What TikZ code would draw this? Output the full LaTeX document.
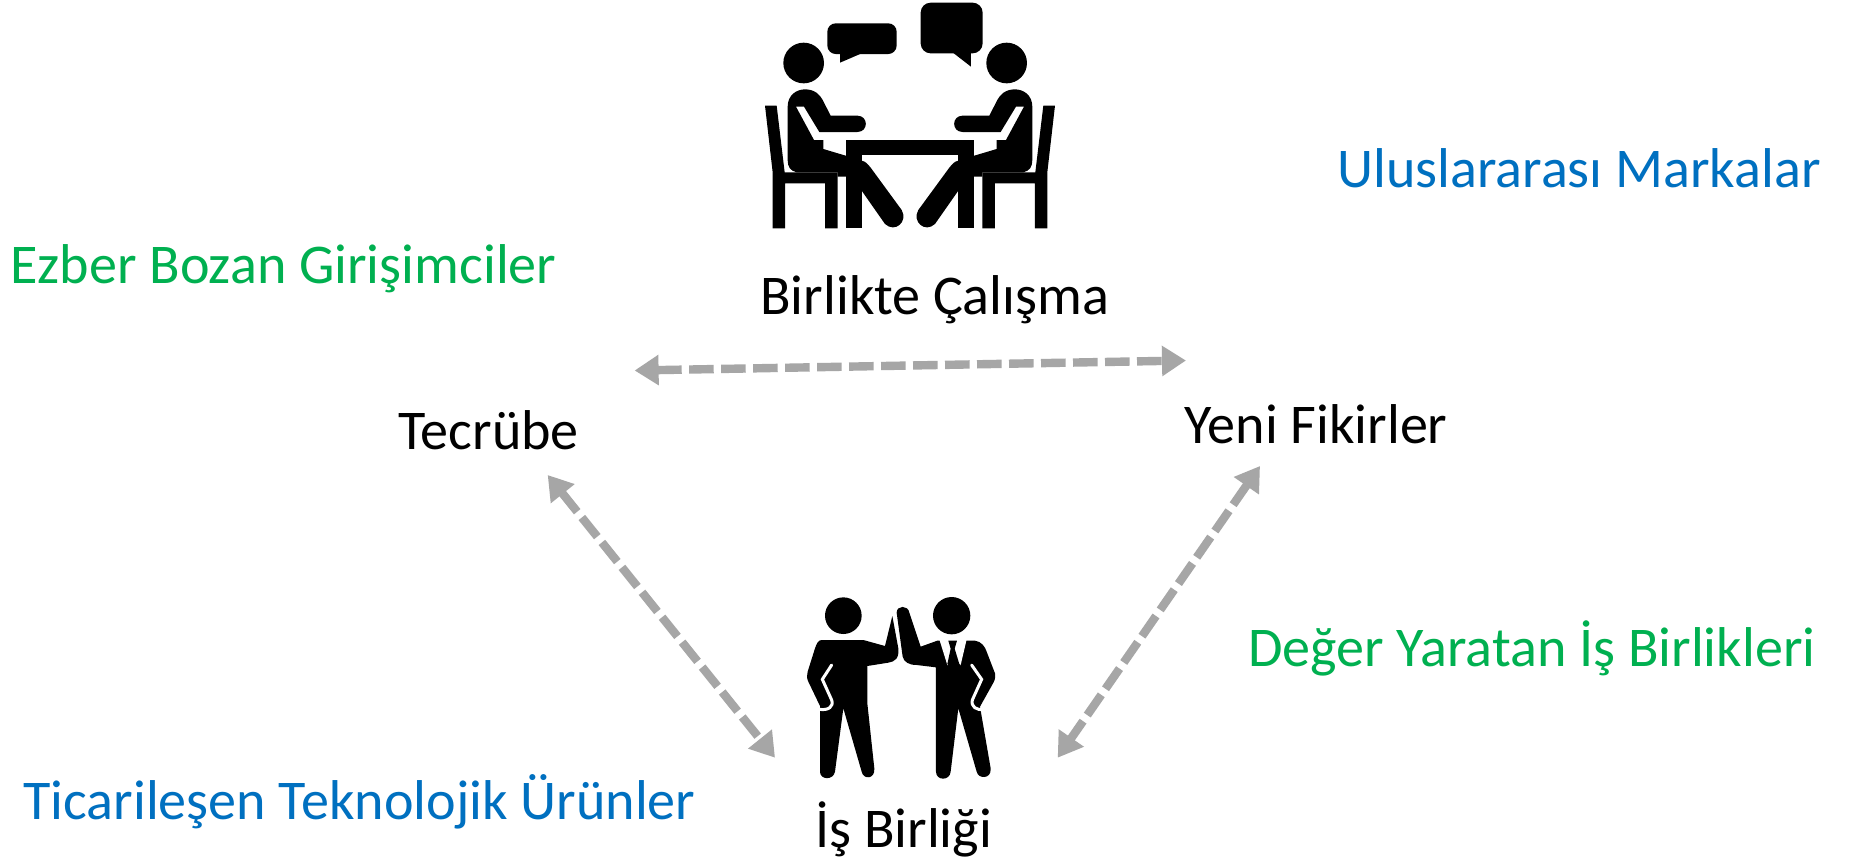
\documentclass[tikz,border=0pt]{standalone}
\usepackage{fontspec}
\setmainfont{Carlito}
\usetikzlibrary{arrows.meta}
\definecolor{arrowgrey}{HTML}{A6A6A6}
\definecolor{labgreen}{HTML}{00B050}
\definecolor{labblue}{HTML}{0070C0}
\newcommand{\meetingside}{%
  % chair
  \fill (75,317) -- (110,317) -- (134,517) -- (293,517) -- (293,685) -- (255,685) -- (255,550) -- (135,550) -- (135,685) -- (98,685) -- (98,517) -- cycle;
  % person
  \fill (143,320) .. controls (143,285) and (170,268) .. (195,268) .. controls (225,268) and (240,285) .. (248,300) -- (272,347) -- (352,347) .. controls (386,347) and (386,396) .. (352,396) -- (238,396) -- (192,320) -- (168,320) -- (222,420) -- (250,420) -- (250,447) -- (317,467) -- (365,482) .. controls (378,484) and (385,495) .. (392,503) -- (485,630) .. controls (505,665) and (465,700) .. (435,672) -- (365,572) -- (340,530) -- (293,530) -- (293,517) -- (170,517) .. controls (150,512) and (143,500) .. (143,480) -- cycle;
  % table leg
  \fill (317,440) rectangle (365,685);
}
\newcommand{\fivemanA}{%
  \fill (190,107) circle[radius=55];
  \fill (125,180) -- (250,180) -- (315,198) -- (337,108) -- (355,205) .. controls (358,235) and (345,245) .. (325,248) -- (262,258) -- (262,370) -- (283,565) .. controls (286,598) and (250,600) .. (245,575) -- (190,385) -- (165,575) .. controls (160,602) and (120,600) .. (120,575) -- (120,378) -- (85,305) .. controls (80,295) and (80,285) .. (83,275) -- (105,205) .. controls (110,190) and (115,180) .. (125,180) -- cycle;
  \draw[white,line width=1.5pt,line cap=round] (155,255) -- (127,298) -- (155,360) .. controls (162,380) and (145,392) .. (118,388);
}
\newcommand{\fivemanB}{%
  \fill (515,107) circle[radius=56];
  \fill (350,98) .. controls (350,75) and (385,75) .. (388,98) -- (422,200) -- (472,182) -- (585,182) .. controls (605,185) and (615,200) .. (620,215) -- (645,280) .. controls (648,295) and (642,305) .. (638,312) -- (600,380) -- (632,565) .. controls (635,598) and (595,598) .. (590,575) -- (535,385) -- (512,575) .. controls (510,603) and (468,603) .. (468,575) -- (468,262) -- (410,255) .. controls (385,255) and (372,245) .. (368,230) -- cycle;
  \fill[white] (478,178) -- (560,178) -- (542,255) -- (520,270) -- (502,255) -- cycle;
  \fill (505,182) -- (531,182) -- (524,206) -- (538,252) -- (520,268) -- (502,252) -- (512,206) -- cycle;
  \fill (502,255) -- (538,252) -- (542,255) -- (520,290) -- cycle;
  \draw[white,line width=1.5pt,line cap=round] (575,255) -- (605,298) -- (577,360) .. controls (572,380) and (590,392) .. (612,388);
}
\tikzset{
  lab/.style={anchor=base west,inner sep=0pt,font=\fontsize{28.05pt}{30pt}\selectfont},
  linkarrow/.style={draw=arrowgrey,line width=4.2pt,dash pattern=on 12.3pt off 3.7pt,{Triangle[length=12pt,width=14.5pt]}-{Triangle[length=12pt,width=14.5pt]}},
  zoomone/.style={shift={(740,0)},x=0.5pt/3,y=-0.5pt/3},
  zoomtwo/.style={shift={(780,580)},x=0.5pt/3,y=-0.5pt/3}
}
\begin{document}
\begin{tikzpicture}[x=0.5pt,y=-0.5pt]
\useasboundingbox (0,0) rectangle (1849,864);
\fill[white] (0,0) rectangle (1849,864);
% meeting icon
\begin{scope}[zoomone]
  \fill (191,189) circle[radius=61];
  \fill (800,189) circle[radius=61];
  \fill[rounded corners=4.2pt] (262,70) rectangle (470,162);
  \fill (300,150) -- (300,188) -- (365,160) -- cycle;
  \fill[rounded corners=5pt] (542,8) rectangle (728,160);
  \fill (635,155) -- (693,200) -- (693,155) -- cycle;
  \meetingside
  \begin{scope}[shift={(1020,0)},xscale=-1]
    \meetingside
  \end{scope}
  \fill (317,420) rectangle (703,465);
\end{scope}
% high five icon
\begin{scope}[zoomtwo]
  \fivemanA
  \fivemanB
\end{scope}
% labels
\node[lab] (birlikte) at (760,314) {Birlikte Çalışma};
\node[lab] (tecrube) at (398,449) {Tecrübe};
\node[lab] (yeni) at (1184,443) {Yeni Fikirler};
\node[lab] (isbir) at (815,847) {İş Birliği};
\node[lab,text=labblue] (ulus) at (1337,187) {Uluslararası Markalar};
\node[lab,text=labgreen] (ezber) at (10,283) {Ezber Bozan Girişimciler};
\node[lab,text=labgreen] (deger) at (1248,666) {Değer Yaratan İş Birlikleri};
\node[lab,text=labblue] (ticari) at (23,819) {Ticarileşen Teknolojik Ürünler};
% connector ends
\coordinate (tl) at (634.6,370.5);
\coordinate (yr) at (1186,360.5);
\coordinate (tb) at (547.7,475);
\coordinate (il) at (775,757.7);
\coordinate (yb) at (1260,466);
\coordinate (ir) at (1057.7,757.7);
\draw[linkarrow] (tl) -- (yr);
\draw[linkarrow] (tb) -- (il);
\draw[linkarrow] (yb) -- (ir);
\end{tikzpicture}
\end{document}
